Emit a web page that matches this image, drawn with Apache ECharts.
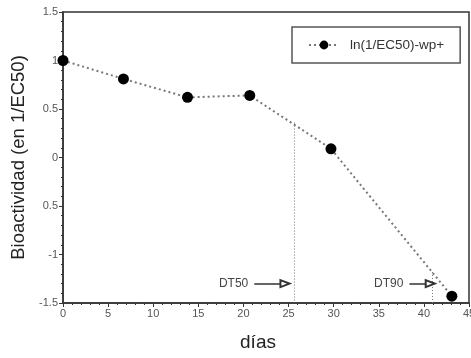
<!DOCTYPE html>
<html>
<head>
<meta charset="utf-8">
<script src="https://cdn.jsdelivr.net/npm/echarts@6/dist/echarts.min.js"></script>
<style>
  html, body {margin: 0; padding: 0; background: #fff;}
  #chart {width: 471px; height: 358px;}
</style>
</head>
<body>
<div id="chart"></div>
<script>
// measured points
const days = [0, 6.7, 13.8, 20.7, 29.7, 43.1];
const bio = [1.0, 0.81, 0.62, 0.64, 0.09, -1.43];
const seriesName = 'ln(1/EC50)-wp+';
// DT50 / DT90 markers: [x, yTop]
const dtNames = ['DT50', 'DT90'];
const dtDays = [25.6, 40.9];
const dtTop = [0.36, -1.18];
const arrowFrom = [21.2, 38.4];
const arrowTo = [24.6, 40.7];
const arrowY = -1.3;
const yTicks = {'-1.5': '-1.5', '-1': '-1', '-0.5': '0.5', '0': '0', '0.5': '0.5', '1': '1', '1.5': '1.5'};

const font = 'Liberation Sans, Arial, sans-serif';
const chart = echarts.init(document.getElementById('chart'));

chart.setOption({
  animation: false,
  textStyle: {fontFamily: font},
  grid: {left: 63, right: 2, top: 12, bottom: 55, outerBoundsMode: 'none', containLabel: false,
    show: true, borderColor: '#333', borderWidth: 1.5},
  legend: {
    left: 292, top: 27,
    padding: [11, 16, 11, 16],
    borderColor: '#555', borderWidth: 1.5,
    itemWidth: 30, itemHeight: 11,
    textStyle: {fontSize: 13.5, color: '#333', fontFamily: font, padding: [0, 0, 0, 6]},
    data: [seriesName]
  },
  xAxis: {
    type: 'value', min: 0, max: 45, interval: 5,
    name: 'días', nameLocation: 'middle', nameGap: 30,
    nameTextStyle: {fontSize: 19, color: '#222', padding: [0, 16, 0, 0]},
    axisLine: {onZero: false, lineStyle: {color: '#333', width: 1.5}},
    axisTick: {length: 4, lineStyle: {color: '#333'}},
    minorTick: {show: true, splitNumber: 5, length: 2, lineStyle: {color: '#333'}},
    axisLabel: {fontSize: 11, color: '#555', margin: 5, showMaxLabel: true},
    splitLine: {show: false}
  },
  yAxis: {
    type: 'value', min: -1.5, max: 1.5, interval: 0.5,
    name: 'Bioactividad (en 1/EC50)', nameLocation: 'middle', nameGap: 33,
    nameTextStyle: {fontSize: 18.5, color: '#222'},
    axisLine: {onZero: false, lineStyle: {color: '#333', width: 1.5}},
    axisTick: {length: 4, lineStyle: {color: '#333'}},
    minorTick: {show: true, splitNumber: 5, length: 2, lineStyle: {color: '#333'}},
    axisLabel: {fontSize: 11, color: '#555', margin: 5, formatter: v => yTicks[String(v)] ?? String(v)},
    splitLine: {show: false}
  },
  series: [
    {
      name: seriesName,
      type: 'line',
      data: days.map((d, i) => [d, bio[i]]),
      symbol: 'circle', symbolSize: 11,
      itemStyle: {color: '#000'},
      lineStyle: {color: '#777', width: 2, type: [2, 3]},
      z: 5
    },
    {
      type: 'line', data: [], silent: true,
      markLine: {
        silent: true, symbol: 'none',
        lineStyle: {color: '#777', width: 1, type: [1, 2]},
        label: {show: false},
        data: dtDays.map((d, i) => [{coord: [d, dtTop[i]]}, {coord: [d, -1.5]}])
      }
    },
    {
      type: 'line', data: [], silent: true,
      markLine: {
        silent: true, symbol: ['none', 'emptyTriangle'], symbolSize: [7, 9],
        lineStyle: {color: '#333', width: 1.5, type: 'solid'},
        label: {show: true, position: 'start', fontSize: 12, color: '#444', distance: 6},
        data: dtNames.map((n, i) => [
          {coord: [arrowFrom[i], arrowY], label: {formatter: n}},
          {coord: [arrowTo[i], arrowY]}
        ])
      }
    }
  ]
});
</script>
</body>
</html>
